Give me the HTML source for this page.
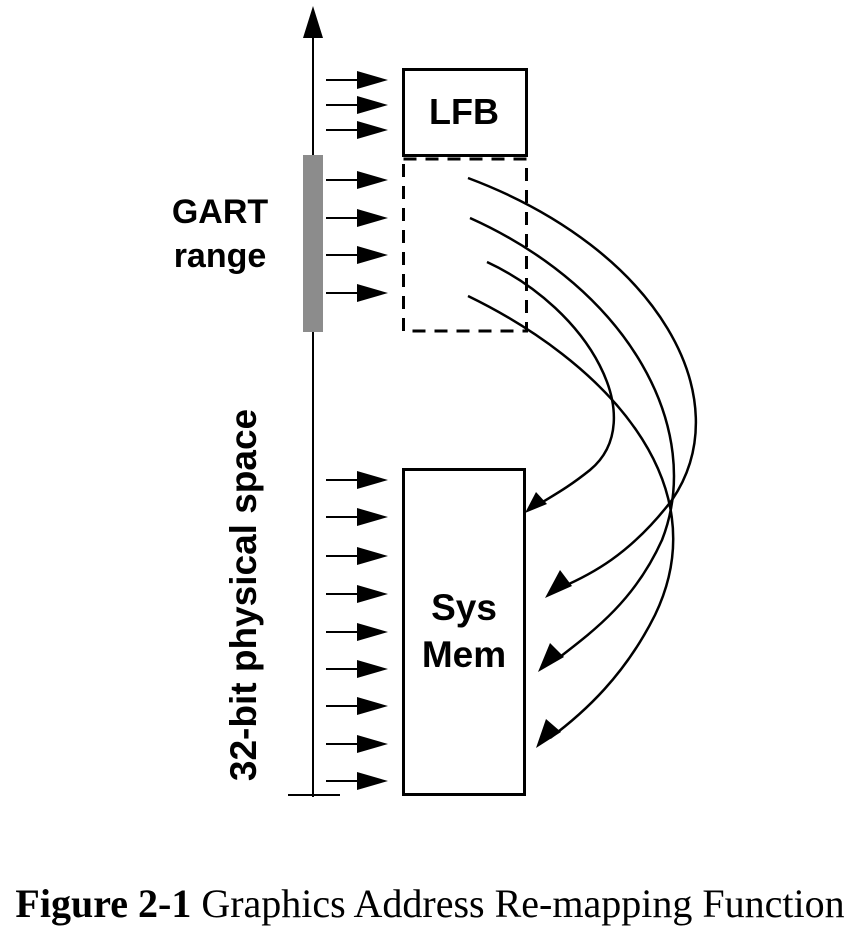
<!DOCTYPE html>
<html><head><meta charset="utf-8"><style>
html,body{margin:0;padding:0;background:#fff;width:860px;height:934px;overflow:hidden}
</style></head><body>
<svg width="860" height="934" viewBox="0 0 860 934" xmlns="http://www.w3.org/2000/svg">
<defs>
<g id="sa"><line x1="326" y1="0" x2="360" y2="0" stroke="#000" stroke-width="2"/><polygon points="357,-9 388,0 357,9" fill="#000"/></g>
</defs>
<line x1="313" y1="30" x2="313" y2="797" stroke="#000" stroke-width="2"/>
<polygon points="303,38 313,6 323,38" fill="#000"/>
<rect x="303" y="155" width="20" height="177" fill="#8c8c8c"/>
<line x1="288" y1="795" x2="340" y2="795" stroke="#000" stroke-width="2"/>
<g>
<use href="#sa" y="80"/><use href="#sa" y="105"/><use href="#sa" y="130"/>
<use href="#sa" y="180"/><use href="#sa" y="218"/><use href="#sa" y="255"/><use href="#sa" y="293"/>
<use href="#sa" y="480"/><use href="#sa" y="517"/><use href="#sa" y="556"/><use href="#sa" y="594"/><use href="#sa" y="632"/><use href="#sa" y="669"/><use href="#sa" y="706"/><use href="#sa" y="744"/><use href="#sa" y="781"/>
</g>
<rect x="403.5" y="69.5" width="123" height="86" fill="none" stroke="#000" stroke-width="3"/>
<rect x="403.5" y="159" width="123" height="172" fill="none" stroke="#000" stroke-width="3" stroke-dasharray="13,9"/>
<rect x="403.5" y="469.5" width="121" height="325" fill="none" stroke="#000" stroke-width="3"/>
<g font-family="Liberation Sans, sans-serif" font-weight="bold" text-anchor="middle" fill="#000">
<text x="464" y="124" font-size="36">LFB</text>
<text x="464" y="620" font-size="37">Sys</text>
<text x="464" y="667" font-size="37">Mem</text>
<text x="220" y="223" font-size="34">GART</text>
<text x="220" y="267" font-size="34">range</text>
<text transform="translate(256,595) rotate(-90)" font-size="37">32-bit physical space</text>
</g>
<g fill="none" stroke="#000" stroke-width="2.5">
<path d="M468,178 C660,250 740,400 672,500 C630,555 590,575 560,588"/>
<path d="M470,218 C630,290 705,430 662,540 C635,600 595,630 556,660"/>
<path d="M487,262 C590,310 650,420 590,470 C565,490 550,497 538,505"/>
<path d="M468,296 C600,360 720,480 655,615 C625,675 585,712 550,738"/>
</g>
<g fill="#000">
<polygon points="545,598 560,570 572,586"/>
<polygon points="538,672 550,643 564,657"/>
<polygon points="525,513 536,492 547,504"/>
<polygon points="536,748 546,719 561,732"/>
</g>
<text x="430" y="917" text-anchor="middle" font-family="Liberation Serif, serif" font-size="40" fill="#000"><tspan font-weight="bold">Figure 2-1</tspan> Graphics Address Re-mapping Function</text>
</svg>
</body></html>
